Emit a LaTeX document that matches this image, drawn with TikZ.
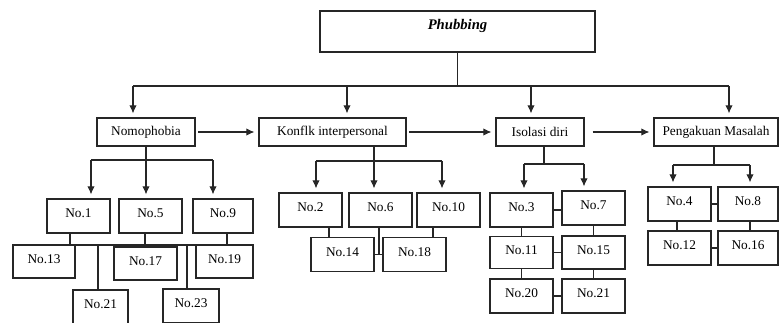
\documentclass[tikz,border=0pt]{standalone}
\usepackage{fontspec}
\setmainfont{Liberation Serif}
\usetikzlibrary{arrows.meta,calc}

\begin{document}
\begin{tikzpicture}[x=0.75pt,y=0.75pt,yscale=-1,
  box/.style={draw=black!85, line width=0.9pt, inner sep=0pt, font=\fontsize{10}{12}\selectfont},
  nobox/.style={box, minimum width=47.25pt, minimum height=25.5pt, text depth=4pt},
  topicbox/.style={box, minimum height=21pt},
  link/.style={draw=black!85, line width=0.8pt},
  arr/.style={link, shorten >=3pt, -{Latex[length=6pt,width=5.5pt]}}]
\useasboundingbox (0,0) rectangle (779,322);

% Text Node
\node [box, minimum width=206.25pt, minimum height=30.75pt, text depth=10pt, font=\fontsize{11}{13}\selectfont\bfseries\itshape] (phub) at (457.5,31.5) {Phubbing};

% Text Node
\node [topicbox, minimum width=73.5pt] (nomo) at (146,132) {Nomophobia};
% Text Node
\node [topicbox, minimum width=110.25pt] (konf) at (332.5,132) {Konflk interpersonal};
% Text Node
\node [topicbox, minimum width=66pt] (isol) at (540,132) {Isolasi diri};
% Text Node
\node [topicbox, minimum width=93pt] (peng) at (716,132) {Pengakuan Masalah};

% Text Node
\node [nobox] (no1) at (78.5,216) {No.1};
\node [nobox] (no5) at (150.5,216) {No.5};
\node [nobox, minimum width=45pt] (no9) at (223,216) {No.9};
\node [nobox, minimum width=46.5pt, minimum height=24.75pt] (no13) at (44,261.5) {No.13};
\node [nobox, minimum height=24.75pt] (no17) at (145.5,263.5) {No.17};
\node [nobox, minimum width=42.75pt, minimum height=24.75pt] (no19) at (224.5,261.5) {No.19};
\node [nobox, minimum width=41.25pt] (no21a) at (100.5,307) {No.21};
\node [nobox, minimum width=42pt] (no23) at (191,306) {No.23};

% Text Node
\node [nobox] (no2) at (310.5,210) {No.2};
\node [nobox] (no6) at (380.5,210) {No.6};
\node [nobox] (no10) at (448.5,210) {No.10};
\node [nobox] (no14) at (342.5,254.5) {No.14};
\node [nobox] (no18) at (414.5,254.5) {No.18};

% Text Node
\node [nobox] (no3) at (521.5,210) {No.3};
\node [nobox] (no7) at (593.5,208) {No.7};
\node [nobox, minimum height=24pt] (no11) at (521.5,252.5) {No.11};
\node [nobox, minimum height=24.75pt] (no15) at (593.5,252.5) {No.15};
\node [nobox] (no20) at (521.5,296) {No.20};
\node [nobox] (no21b) at (593.5,296) {No.21};

% Text Node
\node [nobox] (no4) at (679.5,204) {No.4};
\node [nobox, minimum width=45pt] (no8) at (748,204) {No.8};
\node [nobox] (no12) at (679.5,248) {No.12};
\node [nobox, minimum width=45pt] (no16) at (748,248) {No.16};

%Straight Lines
\coordinate (tl) at (133,86);
\coordinate (tr) at (729,86);
\coordinate (tk) at (347,86);
\coordinate (ti) at (531,86);
\draw [link] (phub.south) -- (phub.south |- tl);
\draw [link] (tl) -- (tr);
\draw [arr] (tl) -- (tl |- nomo.north);
\draw [arr] (tk) -- (tk |- konf.north);
\draw [arr] (ti) -- (ti |- isol.north);
\draw [arr] (tr) -- (tr |- peng.north);

%Straight Lines
\draw [arr, shorten <=2pt] (nomo) -- (konf);
\draw [arr, shorten <=2pt] (konf) -- (isol);
\draw [arr, shorten <=6pt] (isol) -- (peng);

%Straight Lines
\coordinate (nl) at (91,160);
\coordinate (nr) at (213,160);
\draw [link] (nomo.south) -- (nomo.south |- nl);
\draw [link] (nl) -- (nr);
\draw [arr] (nl) -- (nl |- no1.north);
\draw [arr] (nomo.south |- nl) -- (nomo.south |- no5.north);
\draw [arr] (nr) -- (nr |- no9.north);
\coordinate (ml) at (70,245);
\coordinate (mr) at (227,245);
\draw [link] (ml |- no1.south) -- (ml) -- (mr) -- (mr |- no9.south);
\coordinate (m5) at (145,0);
\draw [link] (m5 |- no5.south) -- (m5 |- no17.north);
\coordinate (m21) at (98,0);
\draw [link] (m21 |- ml) -- (m21 |- no21a.north);
\coordinate (m23) at (187,0);
\draw [link] (m23 |- ml) -- (m23 |- no23.north);

%Straight Lines
\coordinate (kd) at (374,161);
\coordinate (kl) at (316,161);
\coordinate (kr) at (442,161);
\draw [link] (kd |- konf.south) -- (kd);
\draw [link] (kl) -- (kr);
\draw [arr] (kl) -- (kl |- no2.north);
\draw [arr] (kd) -- (kd |- no6.north);
\draw [arr] (kr) -- (kr |- no10.north);
\coordinate (k2) at (329,0);
\draw [link] (k2 |- no2.south) -- (k2 |- no14.north);
\coordinate (k6) at (379,0);
\draw [link] (k6 |- no6.south) -- (k6 |- no14.east);
\draw [link] (no14) -- (no18);
\coordinate (k10) at (433,0);
\draw [link] (k10 |- no10.south) -- (k10 |- no18.north);

%Straight Lines
\coordinate (id) at (544,164);
\coordinate (il) at (524,164);
\coordinate (ir) at (584,164);
\draw [link] (id |- isol.south) -- (id);
\draw [link] (il) -- (ir);
\draw [arr] (il) -- (il |- no3.north);
\draw [arr] (ir) -- (ir |- no7.north);
\draw [link] (no3.east) -- (no7.west |- no3.east);
\draw [link] (no3) -- (no11);
\draw [link] (no7) -- (no15);
\draw [link] (no11) -- (no15);
\draw [link] (no11) -- (no20);
\draw [link] (no15) -- (no21b);
\draw [link] (no20) -- (no21b);

%Straight Lines
\coordinate (pd) at (714,165);
\coordinate (pl) at (673,165);
\coordinate (pr) at (750,165);
\draw [link] (pd |- peng.south) -- (pd);
\draw [link] (pl) -- (pr);
\draw [arr] (pl) -- (pl |- no4.north);
\draw [arr] (pr) -- (pr |- no8.north);
\draw [link] (no4) -- (no8);
\coordinate (p4) at (677,0);
\draw [link] (p4 |- no4.south) -- (p4 |- no12.north);
\draw [link] (pr |- no8.south) -- (pr |- no16.north);
\draw [link] (no12) -- (no16);
\end{tikzpicture}
\end{document}
